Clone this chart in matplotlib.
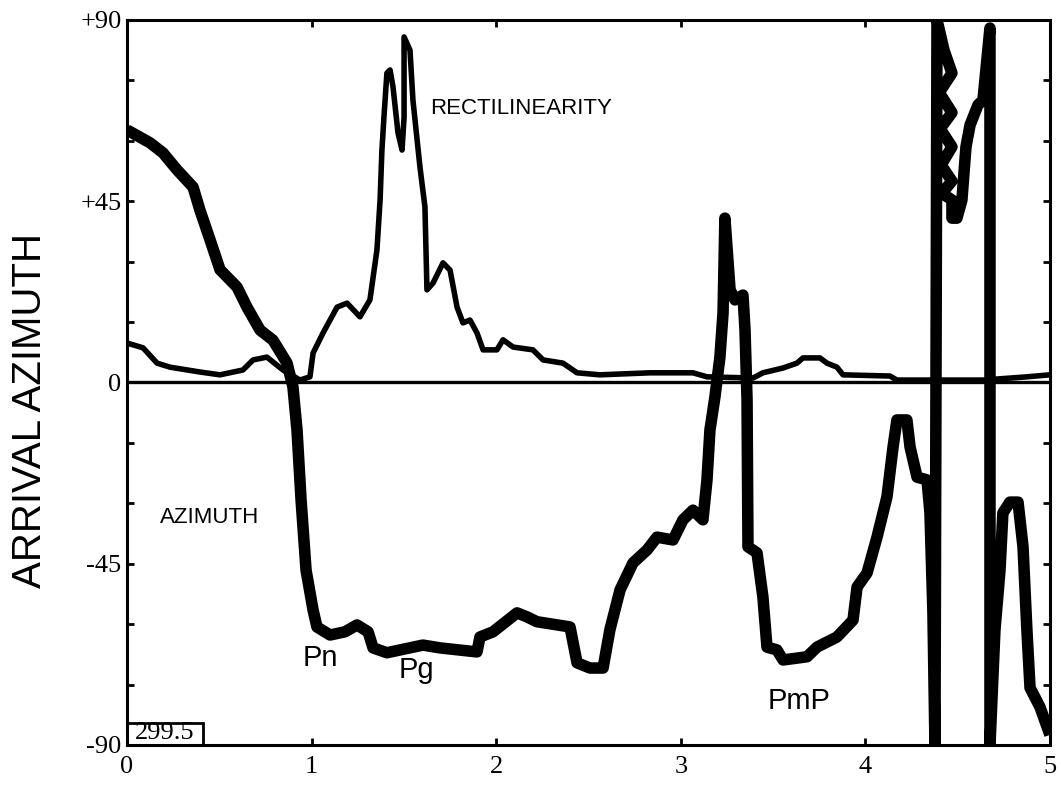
import matplotlib
matplotlib.use("Agg")
import matplotlib.pyplot as plt
from matplotlib.patches import Rectangle

# ---- data (time in s, values in degrees) ----
az_t = [0.000, 0.125, 0.195, 0.271, 0.358, 0.395, 0.450, 0.504, 0.596, 0.650, 0.721, 0.791,
        0.867, 0.899, 0.921, 0.943, 0.970, 1.008, 1.029, 1.100, 1.181, 1.246, 1.306, 1.333,
        1.408, 1.603, 1.696, 1.896, 1.912, 1.983, 2.113, 2.167, 2.221, 2.400, 2.438, 2.508,
        2.579, 2.616, 2.671, 2.741, 2.817, 2.871, 2.958, 3.012, 3.066, 3.120, 3.142, 3.158,
        3.185, 3.212, 3.229, 3.239, 3.267, 3.294, 3.337, 3.348, 3.359, 3.364, 3.413, 3.445,
        3.467, 3.521, 3.554, 3.684, 3.738, 3.846, 3.933, 3.955, 4.009, 4.063, 4.117, 4.150,
        4.171, 4.225, 4.242, 4.280, 4.334, 4.350, 4.366, 4.377, 4.388, 4.426, 4.469, 4.400,
        4.469, 4.405, 4.469, 4.410, 4.469, 4.415, 4.469, 4.469, 4.496, 4.523, 4.545, 4.567,
        4.610, 4.637, 4.675, 4.675, 4.702, 4.729, 4.745, 4.783, 4.827, 4.854, 4.875, 4.892,
        4.946, 5.000]
az_v = [62.7, 59.5, 57.0, 52.8, 48.5, 42.8, 35.4, 28.0, 23.7, 18.7, 13.0, 10.5,
        4.8, -1.1, -11.8, -29.2, -46.6, -56.5, -60.7, -62.7, -61.9, -60.2, -61.9, -65.9,
        -67.1, -65.2, -65.9, -66.9, -63.2, -61.9, -57.2, -58.2, -59.4, -60.7, -69.6, -70.9,
        -70.9, -61.4, -51.5, -44.8, -41.6, -38.4, -39.1, -34.1, -31.7, -34.1, -24.2, -11.8,
        -3.6, 6.3, 17.3, 40.8, 23.0, 20.5, 21.7, 13.0, -4.3, -40.8, -42.3, -53.3,
        -65.7, -66.4, -68.9, -68.1, -65.7, -63.2, -59.0, -50.8, -47.3, -38.4, -28.4, -16.0,
        -9.3, -9.3, -16.0, -23.5, -24.2, -32.4, -57.2, -90.0, 90.0, 82.5, 76.8, 72.0,
        67.0, 63.0, 58.5, 54.0, 50.0, 47.0, 45.3, 40.8, 40.8, 45.3, 58.5, 63.9,
        68.9, 70.1, 88.0, -90.0, -61.4, -46.8, -32.4, -29.7, -29.7, -40.8, -61.4, -75.8,
        -80.6, -87.5]

rect_t = [0.000, 0.087, 0.163, 0.233, 0.395, 0.504, 0.628, 0.683, 0.758, 0.845, 0.937, 0.991,
          1.008, 1.062, 1.138, 1.192, 1.262, 1.316, 1.354, 1.371, 1.381, 1.392, 1.408, 1.425,
          1.441, 1.468, 1.490, 1.501, 1.501, 1.533, 1.549, 1.587, 1.614, 1.625, 1.658, 1.712,
          1.750, 1.788, 1.820, 1.858, 1.896, 1.929, 2.004, 2.037, 2.091, 2.199, 2.254, 2.362,
          2.438, 2.562, 2.833, 3.066, 3.142, 3.391, 3.445, 3.554, 3.629, 3.662, 3.754, 3.792,
          3.846, 3.879, 4.133, 4.171, 4.637, 4.875, 5.000]
rect_v = [9.8, 8.6, 4.8, 3.8, 2.6, 1.9, 3.1, 5.6, 6.3, 3.1, 0.6, 1.4,
          7.3, 12.3, 18.7, 19.7, 16.3, 20.5, 32.9, 45.3, 57.7, 65.9, 76.8, 77.6,
          73.4, 62.0, 57.7, 65.9, 85.8, 82.5, 70.1, 53.5, 43.6, 23.0, 24.7, 29.7,
          27.9, 18.7, 14.8, 15.5, 12.3, 8.1, 8.1, 10.6, 8.8, 8.1, 5.6, 4.8,
          2.4, 1.9, 2.4, 2.4, 1.4, 1.1, 2.4, 3.6, 4.8, 6.1, 6.1, 4.8,
          3.8, 1.9, 1.6, 0.6, 0.6, 1.4, 1.9]

x_ticks = [0, 1, 2, 3, 4, 5]
y_ticks = [-90, -75, -60, -45, -30, -15, 0, 15, 30, 45, 60, 75, 90]
y_labels = {90: "+90", 45: "+45", 0: "0", -45: "-45", -90: "-90"}
phase_labels = [("Pn", 1.05, -68.5), ("Pg", 1.57, -71.5), ("PmP", 3.64, -79.0)]

# ---- figure ----
fig = plt.figure(figsize=(10.61, 7.90), dpi=100)
ax = fig.add_axes([0.1197, 0.0570, 0.8699, 0.9177])
ax.set_xlim(0, 5)
ax.set_ylim(-90, 90)

ax.axhline(0, color="black", lw=2.4, zorder=1)
ax.plot(rect_t, rect_v, color="black", lw=4.0, solid_joinstyle="round", zorder=2)
ax.plot(az_t, az_v, color="black", lw=8.3, solid_joinstyle="round",
        solid_capstyle="butt", zorder=3)

for s in ax.spines.values():
    s.set_linewidth(2.2)

ax.set_xticks(x_ticks)
ax.set_xticklabels([str(v) for v in x_ticks], family="Liberation Serif", fontsize=19)
ax.set_yticks(y_ticks)
ax.set_yticklabels([y_labels.get(v, "") for v in y_ticks], family="Liberation Serif", fontsize=19)
ax.tick_params(direction="in", length=5, width=2, top=True, right=True, pad=4)
ax.tick_params(axis="x", pad=8)

ax.set_ylabel("ARRIVAL AZIMUTH", family="Liberation Sans", fontsize=29)
ax.yaxis.set_label_coords(-0.084, 0.462)

ax.text(1.64, 68, "RECTILINEARITY", family="Liberation Sans", fontsize=16,
        ha="left", va="center")
ax.text(0.18, -33.5, "AZIMUTH", family="Liberation Sans", fontsize=16,
        ha="left", va="center")
for lab, tx, ty in phase_labels:
    ax.text(tx, ty, lab, family="Liberation Sans", fontsize=21, ha="center", va="center")

ax.add_patch(Rectangle((0, -90), 0.41, 5.5, fill=False, lw=2, ec="black",
                       transform=ax.transData, zorder=4, clip_on=False))
ax.text(0.04, -87.0, "299.5", family="Liberation Serif", fontsize=19,
        ha="left", va="center", zorder=4)

fig.savefig("out.png", dpi=100)
